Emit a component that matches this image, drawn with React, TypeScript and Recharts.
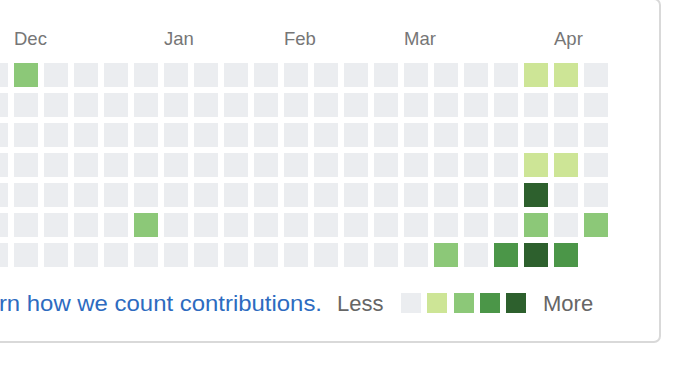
import React from "react";
import { ScatterChart, Scatter, XAxis, YAxis, Customized } from "recharts";

// Contribution levels per weekday row (0 = none … 4 = most, null = future day).
// Week 0 is the partially visible column on the far left.
const sun = [0, 2, 0, 0, 0, 0, 0, 0, 0, 0, 0, 0, 0, 0, 0, 0, 0, 0, 1, 1, 0];
const mon = [0, 0, 0, 0, 0, 0, 0, 0, 0, 0, 0, 0, 0, 0, 0, 0, 0, 0, 0, 0, 0];
const tue = [0, 0, 0, 0, 0, 0, 0, 0, 0, 0, 0, 0, 0, 0, 0, 0, 0, 0, 0, 0, 0];
const wed = [0, 0, 0, 0, 0, 0, 0, 0, 0, 0, 0, 0, 0, 0, 0, 0, 0, 0, 1, 1, 0];
const thu = [0, 0, 0, 0, 0, 0, 0, 0, 0, 0, 0, 0, 0, 0, 0, 0, 0, 0, 4, 0, 0];
const fri = [0, 0, 0, 0, 0, 2, 0, 0, 0, 0, 0, 0, 0, 0, 0, 0, 0, 0, 2, 0, 2];
const sat = [0, 0, 0, 0, 0, 0, 0, 0, 0, 0, 0, 0, 0, 0, 0, 2, 0, 3, 4, 3, null];
const DAYS = [sun, mon, tue, wed, thu, fri, sat];

const monthWeeks = [1, 6, 10, 14, 19];
const monthLabels = ["Dec", "Jan", "Feb", "Mar", "Apr"];

const LEVELS = ["#ebedf0", "#cde596", "#8cc878", "#4b9648", "#2d602d"];
const FONT = '"Liberation Sans", Arial, Helvetica, sans-serif';
const SHIFT = 30; // chart svg sits 30px left of the page edge

const cells = DAYS.flatMap((row, day) =>
  row
    .map((level, week) => ({ week, day, level }))
    .filter((d) => d.level !== null)
);

function Cell(props: any) {
  const { cx, cy, payload } = props;
  return <rect x={cx - 12} y={cy - 12} width={24} height={24} fill={LEVELS[payload.level]} />;
}

function MonthTick(props: any) {
  const { x, payload } = props;
  const i = monthWeeks.indexOf(payload.value);
  return (
    <text x={x - 12} y={45} fontSize={18.5} fill="#767676" fontFamily={FONT}>
      {monthLabels[i]}
    </text>
  );
}

function Footer() {
  return (
    <g transform={`translate(${SHIFT},0)`} fontFamily={FONT}>
      <rect x={-20} y={-1} width={680} height={343} rx={6} fill="none" stroke="#d9d9d9" strokeWidth={2} />
      {/* link is cut off by the left edge in the original screenshot */}
      <text x={-41} y={311} fontSize={22} fill="#2d6bc0" textLength={363} lengthAdjust="spacingAndGlyphs">
        Learn how we count contributions.
      </text>
      <text x={337} y={311} fontSize={22} fill="#666666">Less</text>
      {LEVELS.map((c, i) => (
        <rect key={i} x={401 + Math.round(i * 26.25)} y={293} width={20} height={20} fill={c} />
      ))}
      <text x={543} y={311} fontSize={22} fill="#666666">More</text>
    </g>
  );
}

export default function App() {
  return (
    <div style={{ position: "absolute", left: 0, top: 0, width: 673, height: 373, overflow: "hidden", background: "#fff" }}>
      <div style={{ position: "absolute", left: -SHIFT, top: 0 }}>
        <ScatterChart width={673 + SHIFT} height={373} margin={{ top: 20, right: 32, bottom: 103, left: 11 }}>
          <XAxis
            type="number"
            dataKey="week"
            orientation="top"
            domain={[-0.5, 21.5]}
            ticks={monthWeeks}
            tick={<MonthTick />}
            axisLine={false}
            tickLine={false}
            height={40}
          />
          <YAxis type="number" dataKey="day" domain={[-0.5, 6.5]} reversed hide />
          <Scatter data={cells} shape={<Cell />} isAnimationActive={false} />
          <Customized component={<Footer />} />
        </ScatterChart>
      </div>
    </div>
  );
}
